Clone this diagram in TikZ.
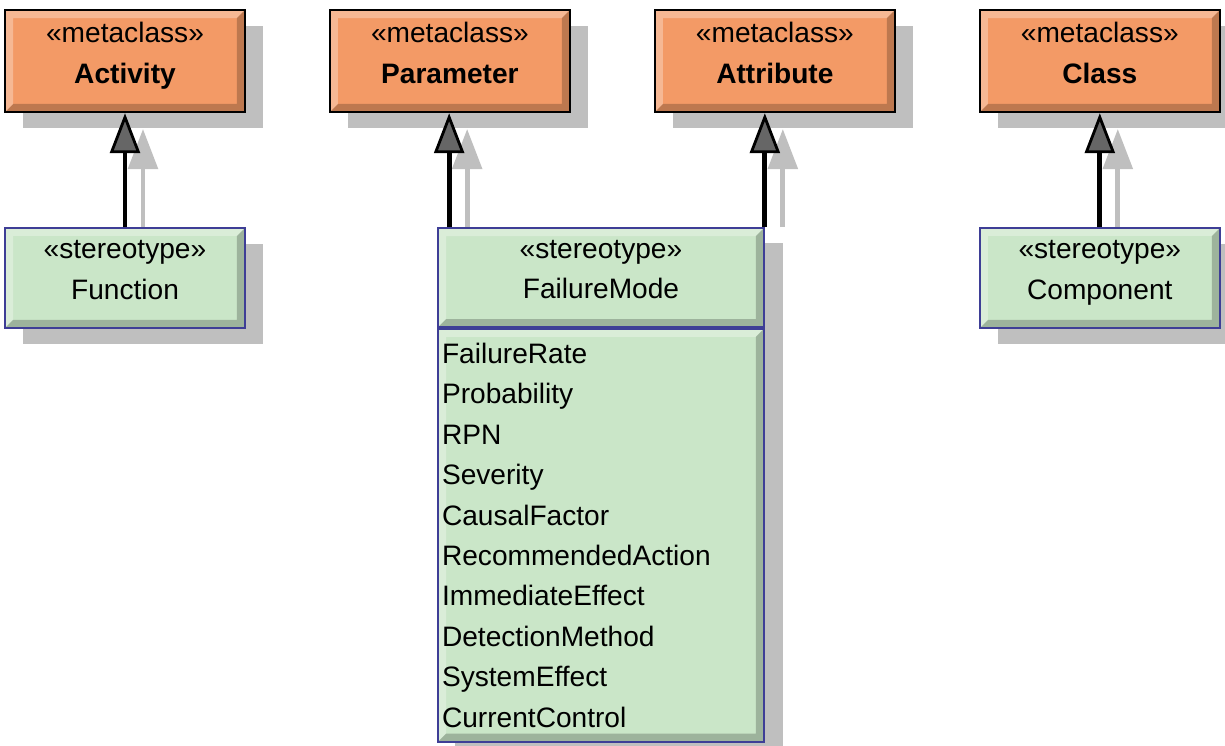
\documentclass[tikz,border=0pt]{standalone}
\usepackage{fontspec}
\setmainfont{Liberation Sans}
\usetikzlibrary{positioning,shadows,arrows.meta,backgrounds}
\definecolor{metaorange}{RGB}{243,154,102}
\definecolor{stereogreen}{RGB}{202,230,200}
\definecolor{stereoblue}{RGB}{62,62,150}
\tikzset{
    bevel/.style={
           path picture={
            \fill[black,opacity=.22] (path picture bounding box.south west)
             -- (path picture bounding box.south east)
             -- (path picture bounding box.north east)
             -- ([xshift=-0.16cm,yshift=-0.16cm]path picture bounding box.north east)
             -- ([xshift=-0.16cm,yshift=0.16cm]path picture bounding box.south east)
             -- ([xshift=0.16cm,yshift=0.16cm]path picture bounding box.south west) -- cycle;
            \fill[white,opacity=.3] (path picture bounding box.south west)
             -- (path picture bounding box.north west)
             -- (path picture bounding box.north east)
             -- ([xshift=-0.16cm,yshift=-0.16cm]path picture bounding box.north east)
             -- ([xshift=0.16cm,yshift=-0.16cm]path picture bounding box.north west)
             -- ([xshift=0.16cm,yshift=0.16cm]path picture bounding box.south west) -- cycle;}},
    boxshadow/.style={
           drop shadow={shadow xshift=0.36cm, shadow yshift=-0.32cm,
                        fill=black!25, opacity=1}},
    metaclass/.style={
           rectangle,
           draw=black, line width=1.4pt,
           fill=metaorange,
           minimum width=4.8cm, minimum height=2.04cm,
           align=center, text depth=0.32cm,
           boxshadow, bevel},
    stereotype/.style={
           rectangle,
           draw=stereoblue, line width=1pt,
           fill=stereogreen,
           minimum width=4.8cm, minimum height=2cm,
           align=center, text depth=0.32cm,
           bevel},
    attrlist/.style={
           rectangle,
           draw=stereoblue, line width=1pt,
           fill=stereogreen,
           text width=6.36cm, inner xsep=0.08cm,
           minimum height=8.26cm,
           align=left,
           bevel},
    generalization/.style={
           line width=2.8pt,
           -{Triangle[width=0.6cm,length=0.8cm,fill=black!60,line width=1.6pt]}},
    genshadow/.style={
           draw=black!25, line width=2.8pt,
           -{Triangle[width=0.6cm,length=0.8cm,fill=black!25,line width=1.6pt]}},
}

\begin{document}
\begin{tikzpicture}[x=0.02cm,y=-0.02cm,
    every node/.append style={font=\fontsize{16pt}{23pt}\selectfont}]

 \useasboundingbox (0,0) rectangle (1225,745);

 \node[metaclass] (ACTIVITY) at (125,61)
 {«metaclass»\\\textbf{Activity}};

 \node[metaclass,
 right of=ACTIVITY,
 node distance=6.5cm] (PARAMETER)
 {«metaclass»\\\textbf{Parameter}};

 \node[metaclass,
 right of=PARAMETER,
 node distance=6.5cm] (ATTRIBUTE)
 {«metaclass»\\\textbf{Attribute}};

 \node[metaclass,
 right of=ATTRIBUTE,
 node distance=6.5cm] (CLASS)
 {«metaclass»\\\textbf{Class}};

 \node[stereotype, boxshadow,
 below of=ACTIVITY,
 node distance=4.34cm] (FUNCTION)
 {«stereotype»\\Function};

 \node[stereotype, boxshadow,
 below of=CLASS,
 node distance=4.34cm] (COMPONENT)
 {«stereotype»\\Component};

 \node[stereotype,
 minimum width=6.52cm,
 minimum height=1.98cm] (FMHEAD) at (601,277.5)
 {«stereotype»\\FailureMode};

 \node[attrlist,
 below=0pt of FMHEAD] (FMATTR)
 {FailureRate\\
  Probability\\
  RPN\\
  Severity\\
  CausalFactor\\
  RecommendedAction\\
  ImmediateEffect\\
  DetectionMethod\\
  SystemEffect\\
  CurrentControl};

 % shadows of the generalizations and of FailureMode
 \begin{scope}[on background layer]
 \fill[black!25] ([xshift=0.36cm,yshift=-0.32cm]FMHEAD.north west)
  rectangle ([xshift=0.36cm,yshift=-0.32cm]FMATTR.south east);
 \draw[genshadow] ([xshift=0.36cm]FUNCTION.north)
  -- ([xshift=0.36cm,yshift=-0.32cm]ACTIVITY.south);
 \draw[genshadow] ([xshift=0.6cm]FMHEAD.north west)
  -- ([xshift=0.6cm,yshift=-0.32cm]FMHEAD.north west |- PARAMETER.south);
 \draw[genshadow] ([xshift=0.36cm]FMHEAD.north east)
  -- ([xshift=0.36cm,yshift=-0.32cm]FMHEAD.north east |- ATTRIBUTE.south);
 \draw[genshadow] ([xshift=0.36cm]COMPONENT.north)
  -- ([xshift=0.36cm,yshift=-0.32cm]CLASS.south);
 \end{scope}

 \draw[generalization] (FUNCTION.north) -- (ACTIVITY.south);
 \draw[generalization] ([xshift=0.24cm]FMHEAD.north west)
  -- ([xshift=0.24cm]FMHEAD.north west |- PARAMETER.south);
 \draw[generalization] (FMHEAD.north east)
  -- (FMHEAD.north east |- ATTRIBUTE.south);
 \draw[generalization] (COMPONENT.north) -- (CLASS.south);

\end{tikzpicture}
\end{document}
